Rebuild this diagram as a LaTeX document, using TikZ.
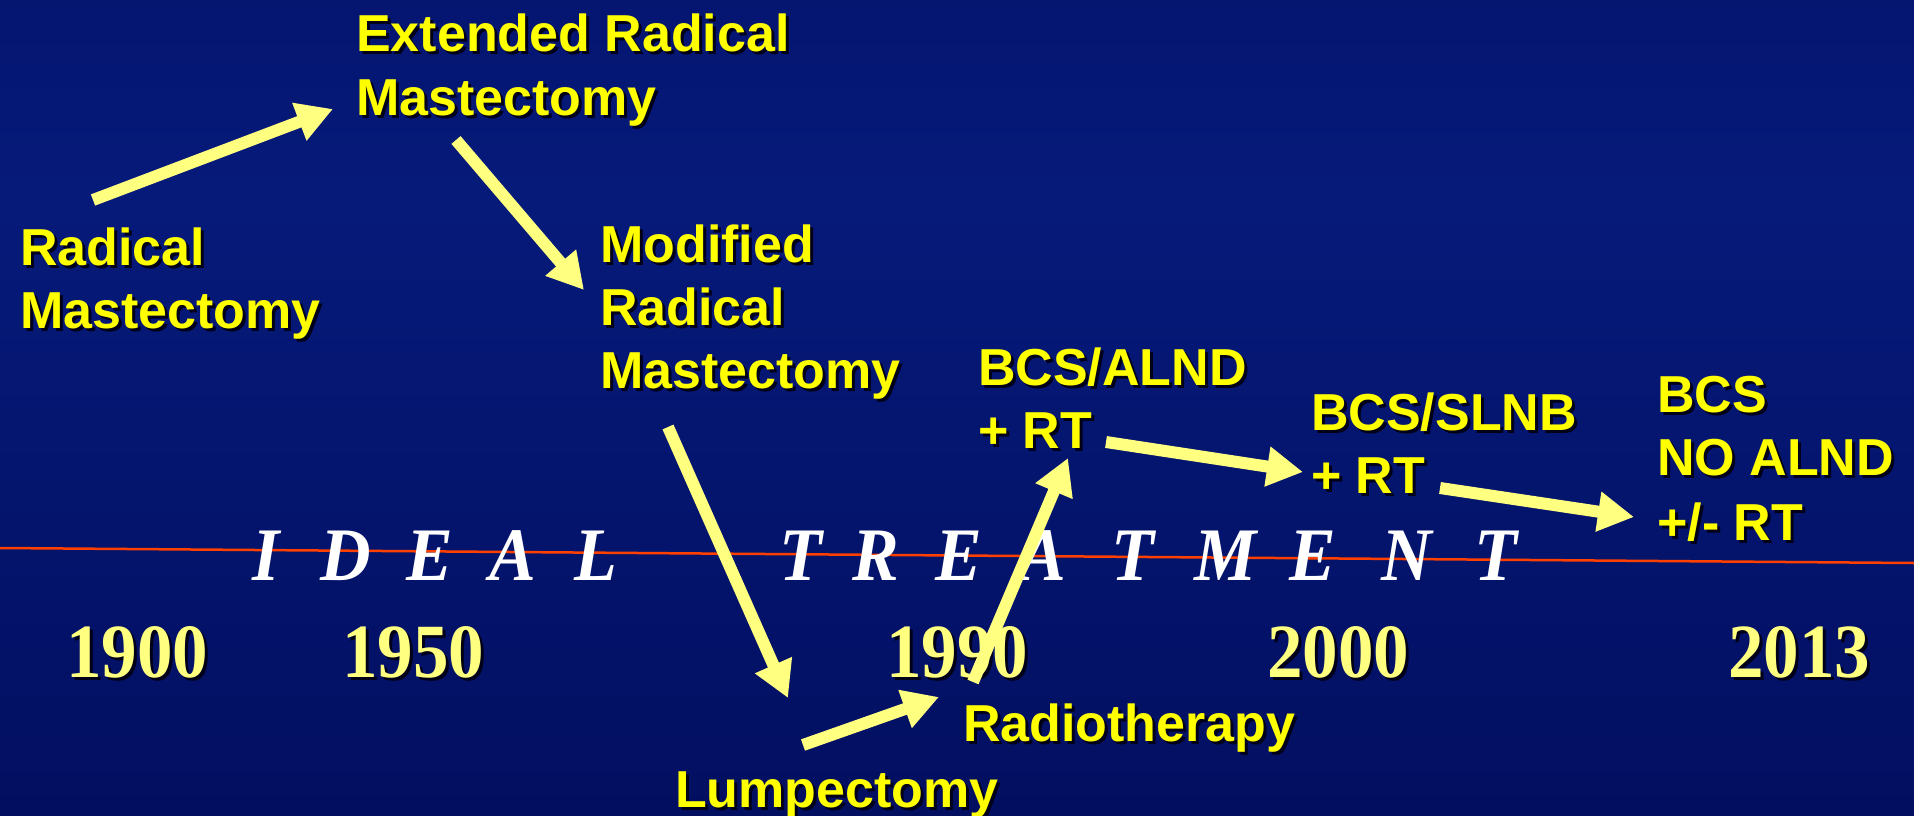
\documentclass[tikz,border=0pt]{standalone}
\usepackage{fontspec}
\usetikzlibrary{arrows.meta}
\newfontfamily\lsans{Liberation Sans}
\newfontfamily\lserif{Liberation Serif}
\definecolor{bgtop}{RGB}{0,12,92}
\definecolor{bgmid}{RGB}{6,26,122}
\definecolor{bgbot}{RGB}{0,8,80}
\definecolor{lblyellow}{RGB}{255,255,0}
\definecolor{paleyellow}{RGB}{255,255,128}
\definecolor{shadowc}{RGB}{0,0,25}
\definecolor{redline}{RGB}{255,64,0}
\pgfdeclareverticalshading{bgshade}{100bp}{color(0bp)=(bgbot); color(63bp)=(bgmid); color(100bp)=(bgtop)}
\tikzset{
  lbl/.style={font=\lsans\bfseries\fontsize{52}{60}\selectfont, text=lblyellow, anchor=base west, inner sep=0pt},
  lblsh/.style={lbl, text=shadowc},
  yr/.style={font=\lserif\bfseries\fontsize{71}{80}\selectfont, text=paleyellow, anchor=base west, inner sep=0pt},
  yrsh/.style={yr, text=shadowc},
  ideal/.style={font=\lserif\bfseries\itshape\fontsize{70}{80}\selectfont, text=white, anchor=base, inner sep=0pt},
  arr/.style={draw=paleyellow, line width=12pt, -{Triangle[length=36pt, width=38pt]}},
}
\newcommand\labl[4]{%
  \node[lblsh] at (#2+3,#3+3) {#4};
  \node[lbl] (#1) at (#2,#3) {#4};}
\newcommand\yearlbl[4]{%
  \node[yrsh] at (#2+3,#3+3) {\scalebox{1}[1.08]{#4}};
  \node[yr] (#1) at (#2,#3) {\scalebox{1}[1.08]{#4}};}
\begin{document}
\begin{tikzpicture}[x=1pt,y=-1pt]
\useasboundingbox (0,0) rectangle (1914,816);
\fill[shading=bgshade] (0,0) rectangle (1914,816);
% red timeline
\coordinate (lineL) at (0,548);
\coordinate (lineR) at (1914,563);
\draw[redline, line width=2.5pt] (lineL) -- (lineR);
% IDEAL TREATMENT
\foreach \ch/\xx [count=\i] in {I/266,D/346,E/430,A/513,L/596,T/801,R/876,E/959,A/1043,T/1133,M/1226,E/1313,N/1407,T/1496}
  \node[ideal] (ideal\i) at (\xx,580) {\scalebox{1}[1.08]{\ch}};
% years
\yearlbl{y1900}{66}{677}{1900}
\yearlbl{y1950}{342}{677}{1950}
\yearlbl{y1990}{886}{677}{1990}
\yearlbl{y2000}{1267}{677}{2000}
\yearlbl{y2013}{1728}{677}{2013}
% labels
\labl{ext1}{356}{52}{Extended Radical}
\labl{ext2}{356}{115}{Mastectomy}
\labl{rad1}{20}{265}{Radical}
\labl{rad2}{20}{328}{Mastectomy}
\labl{mod1}{600}{262}{Modified}
\labl{mod2}{600}{325}{Radical}
\labl{mod3}{600}{388}{Mastectomy}
\labl{alnd1}{978}{385}{BCS/ALND}
\labl{alnd2}{978}{448}{+ RT}
\labl{slnb1}{1311}{430}{BCS/SLNB}
\labl{slnb2}{1311}{493}{+ RT}
\labl{no1}{1657}{412}{BCS}
\labl{no2}{1657}{475}{NO ALND}
\labl{no3}{1657}{540}{+/- RT}
\labl{radio}{963}{741}{Radiotherapy}
\labl{lump}{675}{807}{Lumpectomy}
% arrow end points
\coordinate (a1s) at (93,200);   \coordinate (a1e) at (333,109);
\coordinate (a2s) at (456,140);  \coordinate (a2e) at (584,290);
\coordinate (a3s) at (668,427);  \coordinate (a3e) at (788,698);
\coordinate (a4s) at (803,745);  \coordinate (a4e) at (939,697);
\coordinate (a5s) at (973,682);  \coordinate (a5e) at (1068,458);
\coordinate (a6s) at (1106,442); \coordinate (a6e) at (1303,472);
\coordinate (a7s) at (1440,488); \coordinate (a7e) at (1634,517);
\foreach \k in {1,...,7}
  \draw[arr] (a\k s) -- (a\k e);
\end{tikzpicture}
\end{document}
